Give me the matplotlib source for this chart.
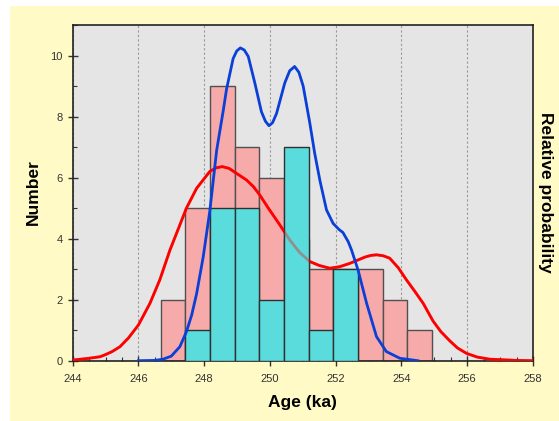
import numpy as np
import matplotlib
matplotlib.use("Agg")
from matplotlib import pyplot as plt
from matplotlib.patches import Rectangle
from matplotlib.ticker import MultipleLocator

# histogram bins (ka)
bin_edges = [246.68, 247.43, 248.18, 248.93, 249.68, 250.43, 251.18,
             251.93, 252.68, 253.43, 254.18, 254.93]
pink_counts = [2, 5, 9, 7, 6, 4, 3, 3, 3, 2, 1]
cyan_counts = [0, 1, 5, 5, 2, 7, 1, 3, 0, 0, 0]

# probability curves (scaled to count axis)
red_age = [244.0, 244.5, 244.83, 245.0, 245.2, 245.44, 245.7, 246.0, 246.35,
           246.65, 246.96, 247.26, 247.46, 247.77, 248.17, 248.36, 248.55,
           248.76, 248.98, 249.29, 249.5, 249.69, 249.95, 250.3, 250.6, 250.9,
           251.21, 251.5, 251.82, 252.12, 252.43, 252.9, 253.07, 253.24,
           253.44, 253.64, 253.9, 254.15, 254.4, 254.66, 254.96, 255.2, 255.47,
           255.7, 255.98, 256.3, 256.68, 257.5, 258.0]
red_prob = [0.02, 0.08, 0.13, 0.2, 0.3, 0.46, 0.75, 1.17, 1.88,
            2.65, 3.63, 4.45, 5.0, 5.65, 6.2, 6.32, 6.36,
            6.3, 6.14, 5.92, 5.7, 5.43, 5.0, 4.45, 3.96, 3.55,
            3.25, 3.12, 3.03, 3.08, 3.19, 3.4, 3.45, 3.47,
            3.44, 3.36, 3.05, 2.65, 2.28, 1.88, 1.3, 0.95, 0.65,
            0.42, 0.24, 0.12, 0.05, 0.01, 0.0]

blue_age = [246.0, 246.5, 246.75, 247.0, 247.26, 247.46, 247.62, 247.77, 247.97,
            248.17, 248.38, 248.58, 248.68, 248.88, 248.99, 249.1, 249.22,
            249.34, 249.54, 249.74, 249.86, 249.97, 250.08, 250.2, 250.45,
            250.6, 250.75, 250.88, 251.01, 251.21, 251.36, 251.52, 251.72,
            251.92, 252.1, 252.22, 252.38, 252.48, 252.68, 252.94, 253.24,
            253.54, 253.95, 254.5]
blue_prob = [0.0, 0.01, 0.05, 0.15, 0.46, 0.95, 1.5, 2.2, 3.4,
             4.9, 6.9, 8.2, 8.9, 9.9, 10.15, 10.25, 10.18,
             9.97, 9.1, 8.16, 7.85, 7.7, 7.8, 8.1, 9.1,
             9.5, 9.64, 9.45, 9.0, 7.8, 6.8, 5.9, 4.94,
             4.5, 4.3, 4.2, 3.9, 3.63, 2.97, 1.88, 0.79,
             0.30, 0.08, 0.0]

fig = plt.figure(figsize=(5.59, 4.21), dpi=100, facecolor="white")
fig.patches.append(Rectangle((10 / 559, 0), 1, (421 - 6) / 421,
                             transform=fig.transFigure, facecolor="#FFFAC6",
                             edgecolor="none", zorder=-10))
ax = fig.add_axes([0.130, 0.1432, 0.8235, 0.7974])
ax.set_facecolor("#E5E5E5")

lefts = bin_edges[:-1]
widths = np.diff(bin_edges)
ax.bar(lefts, pink_counts, width=widths, align="edge", color="#F7AAAA",
       edgecolor="#505050", linewidth=1, zorder=2)
ax.plot(red_age, red_prob, color="#FF0000", lw=2, zorder=3,
        solid_joinstyle="round")
ax.bar(lefts, cyan_counts, width=widths, align="edge", color="#5ADCDC",
       edgecolor="#303030", linewidth=1, zorder=4)
# red curve shows faintly through the cyan bars
ax.plot(red_age, red_prob, color="#FF0000", lw=2, alpha=0.35, zorder=4.5,
        solid_joinstyle="round")
ax.plot(blue_age, blue_prob, color="#0A3FD8", lw=2, zorder=5,
        solid_joinstyle="round")

ax.set_xlim(244, 258)
ax.set_ylim(0, 11)
ax.xaxis.set_major_locator(MultipleLocator(2))
ax.xaxis.set_minor_locator(MultipleLocator(0.5))
ax.yaxis.set_major_locator(MultipleLocator(2))
ax.yaxis.set_minor_locator(MultipleLocator(1))
ax.tick_params(which="major", direction="inout", length=7, width=1,
               labelsize=8, labelcolor="#333333", color="#333333")
ax.tick_params(which="minor", direction="in", length=3, width=0.8, color="#333333")
ax.tick_params(axis="x", pad=6)
for s in ax.spines.values():
    s.set_linewidth(1.2)
    s.set_color("#222222")
ax.grid(axis="x", which="major", color="#999999", linestyle=(0, (2, 2)), lw=0.8)
ax.set_axisbelow(True)

fig.text(302.9 / 559, 1 - 402.7 / 421, "Age (ka)", ha="center", va="center",
         fontsize=12.5, fontweight="bold", family="Liberation Sans")
fig.text(33 / 559, 1 - 192 / 421, "Number", ha="center", va="center",
         rotation=90, fontsize=12.5, fontweight="bold", family="Liberation Sans")
fig.text(545 / 559, 1 - 192 / 421, "Relative probability", ha="center",
         va="center", rotation=270, fontsize=12.5, fontweight="bold",
         family="Liberation Sans")
for lab in ax.get_xticklabels() + ax.get_yticklabels():
    lab.set_family("Liberation Sans")

fig.savefig("out.png", dpi=100)
